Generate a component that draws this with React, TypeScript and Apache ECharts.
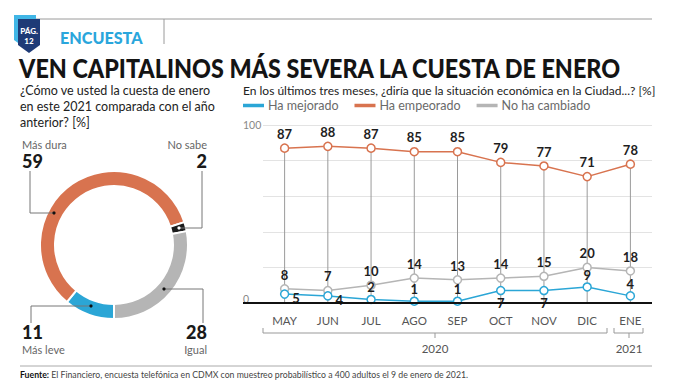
import React, { useEffect, useRef } from "react";
import * as echarts from "echarts";

const months = ["MAY", "JUN", "JUL", "AGO", "SEP", "OCT", "NOV", "DIC", "ENE"];
const mejorado = [5, 4, 2, 1, 1, 7, 7, 9, 4];
const empeorado = [87, 88, 87, 85, 85, 79, 77, 71, 78];
const noCambiado = [8, 7, 10, 14, 13, 14, 15, 20, 18];
const mejoradoLabelPos = ["right", "right", "top", "top", "top", "bottom", "bottom", "top", "top"];
const seriesNames = ["Ha mejorado", "Ha empeorado", "No ha cambiado"];

const donutNames = ["Más leve", "Más dura", "No sabe", "Igual"];
const donutValues = [11, 59, 2, 28];

const yearLabels = ["2020", "2021"];

const BLUE = "#2ba6d6";
const ORANGE = "#d8734f";
const GRAY = "#b5b5b5";
const BLACK = "#1b1b1b";
const FONT = "Lato, 'Open Sans', sans-serif";

export default function App() {
  const ref = useRef<HTMLDivElement>(null);
  useEffect(() => {
    if (!ref.current) return;
    const chart = echarts.init(ref.current, null, { renderer: "svg" });

    const valueLabel = { show: true, fontFamily: FONT, fontWeight: "bold", fontSize: 13, color: "#1e1e1e" };

    const annot = (
      name: string, value: number, nx: number, ny: number, vy: number, align: string,
      pts: number[][], dotColor: string
    ) => [
      { type: "text", style: { text: name, x: nx, y: ny, align, verticalAlign: "middle", fontFamily: FONT, fontSize: 11, fill: "#666" } },
      { type: "text", style: { text: String(value), x: nx, y: vy, align, verticalAlign: "middle", fontFamily: FONT, fontWeight: 900, fontSize: 18, fill: "#1a1a1a" } },
      { type: "polyline", shape: { points: pts }, style: { stroke: "#777", lineWidth: 1, fill: null }, z: 20 },
      { type: "circle", shape: { cx: pts[pts.length - 1][0], cy: pts[pts.length - 1][1], r: 1.6 }, style: { fill: dotColor }, z: 21 },
    ];

    const option: any = {
      animation: false,
      textStyle: { fontFamily: FONT },
      grid: { left: 263, right: 28, top: 125, bottom: 88 },
      legend: {
        data: seriesNames,
        left: 243,
        top: 99,
        padding: 0,
        icon: "rect",
        itemWidth: 19,
        itemHeight: 1.5,
        itemGap: 16,
        textStyle: { fontFamily: FONT, fontSize: 12.5, color: "#6a6a6a" },
      },
      xAxis: {
        type: "category",
        data: months,
        axisLine: { show: false },
        axisTick: { show: false },
        axisLabel: { color: "#555", fontSize: 11.5, fontFamily: FONT, margin: 11 },
      },
      yAxis: {
        type: "value",
        min: 0,
        max: 100,
        interval: 20,
        axisLine: { show: false },
        axisTick: { show: false },
        splitLine: { lineStyle: { color: "#e3e3e3", width: 1 } },
        axisLabel: {
          align: "left",
          margin: 20,
          color: "#888",
          fontSize: 10.5,
          fontFamily: FONT,
          formatter: (v: number) => (v === 0 ? "{z|0}" : v === 100 ? "100" : ""),
          rich: { z: { color: "#888", fontSize: 10.5, fontFamily: FONT, padding: [0, 0, 8, 0] } },
        },
      },
      series: [
        {
          type: "pie",
          center: [114, 245],
          radius: [59, 74],
          startAngle: 270,
          clockwise: true,
          label: { show: false },
          labelLine: { show: false },
          silent: true,
          itemStyle: { borderColor: "#fff", borderWidth: 2 },
          data: donutNames.map((n, i) => ({
            name: n,
            value: donutValues[i],
            itemStyle: { color: [BLUE, ORANGE, BLACK, GRAY][i] },
          })),
        },
        {
          type: "bar",
          name: "stem",
          data: empeorado,
          barWidth: 1,
          itemStyle: { color: "#9a9a9a" },
          silent: true,
          z: 1,
        },
        {
          type: "line",
          name: seriesNames[2],
          data: noCambiado,
          color: GRAY,
          symbol: "circle",
          symbolSize: 8,
          lineStyle: { color: GRAY, width: 1.5 },
          itemStyle: { color: "#fff", borderColor: GRAY, borderWidth: 1.5 },
          label: { ...valueLabel, position: "top", distance: 3 },
          z: 3,
        },
        {
          type: "line",
          name: seriesNames[0],
          data: mejorado.map((v, i) => ({
            value: v,
            label: {
              position: mejoradoLabelPos[i],
              distance: mejoradoLabelPos[i] === "right" ? 3 : 1,
              offset: mejoradoLabelPos[i] === "right" ? [0, 4] : [0, 0],
            },
          })),
          color: BLUE,
          symbol: "circle",
          symbolSize: 8,
          lineStyle: { color: BLUE, width: 1.5 },
          itemStyle: { color: "#fff", borderColor: BLUE, borderWidth: 1.5 },
          label: { ...valueLabel },
          z: 4,
        },
        {
          type: "line",
          name: seriesNames[1],
          data: empeorado,
          color: ORANGE,
          symbol: "circle",
          symbolSize: 8,
          lineStyle: { color: ORANGE, width: 1.5 },
          itemStyle: { color: "#fff", borderColor: ORANGE, borderWidth: 1.5 },
          label: { ...valueLabel, position: "top", distance: 3 },
          z: 4,
        },
      ],
      graphic: [
        // header rule
        { type: "line", shape: { x1: 20, y1: 19, x2: 652, y2: 19 }, style: { stroke: "#9a9a9a", lineWidth: 1 } },
        { type: "line", shape: { x1: 164, y1: 19, x2: 164, y2: 44 }, style: { stroke: "#9a9a9a", lineWidth: 1 } },
        // badge
        { type: "polygon", shape: { points: [[14, 15], [36, 15], [36, 40], [25, 48], [14, 40]] }, style: { fill: "#41b6e6" }, z: 5 },
        { type: "polygon", shape: { points: [[18, 19], [40, 19], [40, 45], [29, 53], [18, 45]] }, style: { fill: "#1e3b77" }, z: 6 },
        { type: "text", z: 7, style: { text: "PÁG.", x: 29, y: 31, align: "center", verticalAlign: "middle", fontFamily: FONT, fontWeight: 900, fontSize: 8, fill: "#fff" } },
        { type: "text", z: 7, style: { text: "12", x: 29, y: 41, align: "center", verticalAlign: "middle", fontFamily: FONT, fontWeight: 900, fontSize: 8, fill: "#fff" } },
        { type: "text", x: 60, y: 38, scaleX: 0.95, style: { text: "ENCUESTA", x: 0, y: 0, verticalAlign: "middle", fontFamily: FONT, fontWeight: 900, fontSize: 17, fill: "#2aa6dc" } },
        // title
        { type: "text", x: 19, y: 67, scaleX: 0.865, style: { text: "VEN CAPITALINOS MÁS SEVERA LA CUESTA DE ENERO", x: 0, y: 0, verticalAlign: "middle", fontFamily: FONT, fontWeight: 900, fontSize: 27, fill: "#141414" } },
        // left question
        { type: "text", style: { text: "¿Cómo ve usted la cuesta de enero\nen este 2021 comparada con el año\nanterior? [%]", x: 20, y: 82, lineHeight: 16, fontFamily: FONT, fontSize: 12.5, fill: "#222" } },
        // right question
        { type: "text", style: { text: "En los últimos tres meses, ¿diría que la situación económica en la Ciudad...? [%]", x: 243, y: 90, verticalAlign: "middle", fontFamily: FONT, fontSize: 12, fill: "#222" } },
        // donut annotations
        ...annot(donutNames[1], donutValues[1], 22, 144, 161, "left", [[30, 171], [30, 213], [54, 213]], "#111"),
        ...annot(donutNames[2], donutValues[2], 207, 144, 161, "right", [[202, 171], [202, 228], [179, 228]], "#fff"),
        ...annot(donutNames[0], donutValues[0], 22, 349, 332, "left", [[31, 323], [31, 306], [91, 306]], "#111"),
        ...annot(donutNames[3], donutValues[3], 207, 349, 332, "right", [[203, 323], [203, 289], [164, 289]], "#111"),
        // baseline
        { type: "line", z: 10, shape: { x1: 243, y1: 303, x2: 652, y2: 303 }, style: { stroke: "#111", lineWidth: 2 } },
        // year brackets
        { type: "polyline", shape: { points: [[263, 328], [263, 333], [607, 333], [607, 328]] }, style: { stroke: "#999", lineWidth: 1, fill: null } },
        { type: "line", shape: { x1: 435, y1: 333, x2: 435, y2: 338 }, style: { stroke: "#999", lineWidth: 1 } },
        { type: "text", style: { text: yearLabels[0], x: 435, y: 348, align: "center", verticalAlign: "middle", fontFamily: FONT, fontSize: 11.5, fill: "#555" } },
        { type: "polyline", shape: { points: [[614, 328], [614, 333], [643, 333], [643, 328]] }, style: { stroke: "#999", lineWidth: 1, fill: null } },
        { type: "line", shape: { x1: 629, y1: 333, x2: 629, y2: 338 }, style: { stroke: "#999", lineWidth: 1 } },
        { type: "text", style: { text: yearLabels[1], x: 629, y: 348, align: "center", verticalAlign: "middle", fontFamily: FONT, fontSize: 11.5, fill: "#555" } },
        // footer
        { type: "line", shape: { x1: 20, y1: 366, x2: 652, y2: 366 }, style: { stroke: "#aaa", lineWidth: 1 } },
        {
          type: "text",
          style: {
            text: "{b|Fuente:} El Financiero, encuesta telefónica en CDMX con muestreo probabilístico a 400 adultos el 9 de enero de 2021.",
            x: 20, y: 374, verticalAlign: "middle", fontFamily: FONT, fontSize: 8.7, fill: "#444",
            rich: { b: { fontFamily: FONT, fontWeight: "bold", fontSize: 8.7, fill: "#111" } },
          },
        },
      ],
    };
    chart.setOption(option);
    return () => chart.dispose();
  }, []);
  return <div ref={ref} style={{ position: "fixed", left: 0, top: 0, width: 680, height: 391, background: "#fff" }} />;
}
